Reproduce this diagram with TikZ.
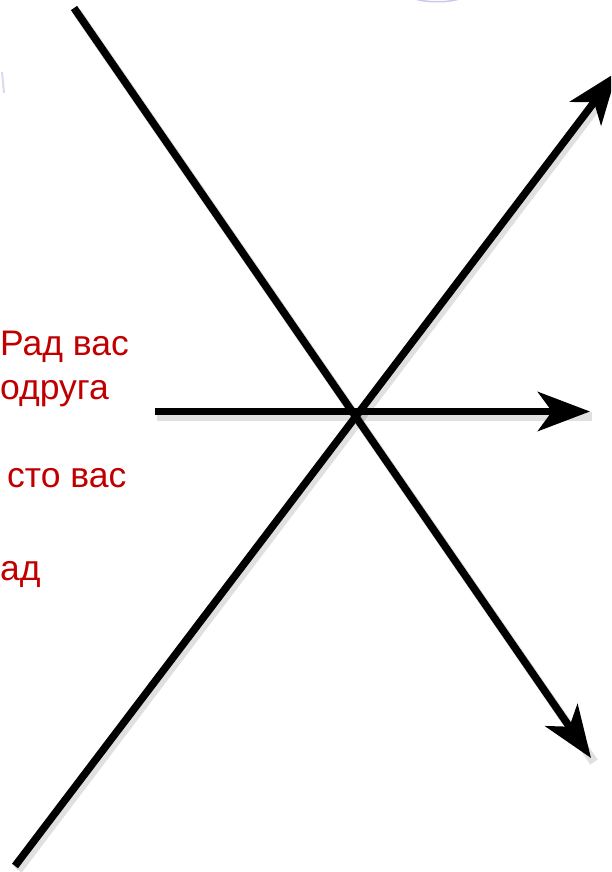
\documentclass[tikz,border=0pt]{standalone}
\usepackage{fontspec}
\setmainfont{Liberation Sans}
\usetikzlibrary{arrows.meta}
\definecolor{txtred}{RGB}{192,0,0}
\definecolor{lav}{RGB}{205,200,235}
\tikzset{
  bigarrow/.style={line width=7.5pt, -{Stealth[length=52pt, width=39pt, inset=14pt]}},
  shade/.style={line width=9pt, black, opacity=0.12},
  redtext/.style={anchor=base west, inner sep=0pt, text=txtred, font=\fontsize{35.5}{44}\selectfont}
}
\begin{document}
\begin{tikzpicture}[x=1pt, y=-1pt]
\useasboundingbox (0,0) rectangle (611,872);
\clip (0,0) rectangle (611,872);
% faint cropped fragments
\draw[lav, line width=1.5pt] (412,-2) .. controls (425,3) and (450,3) .. (462,-2);
\draw[lav, line width=2pt, opacity=0.7] (2,72) -- (4,93);
% coordinates
\coordinate (a1) at (74,8);
\coordinate (a2) at (591,758);
\coordinate (b1) at (15,866);
\coordinate (b2) at (617,72);
\coordinate (c1) at (155,411.5);
\coordinate (c2) at (590,411.5);
% shadows
\draw[shade] ([shift={(3,4)}]a1) -- ([shift={(3,4)}]a2);
\draw[shade] ([shift={(3,4)}]b1) -- ([shift={(3,4)}]b2);
\draw[shade] ([shift={(2,5)}]c1) -- ([shift={(2,5)}]c2);
% lines
\draw[bigarrow] (a1) -- (a2);
\draw[bigarrow] (b1) -- (b2);
\draw[bigarrow] (c1) -- (c2);
% texts
\node[redtext] (t1) at (0,355) {Рад вас};
\node[redtext] (t2) at (0,399) {одруга};
\node[redtext] (t3) at (7,487) {сто вас};
\node[redtext] (t4) at (0,580) {ад};
\end{tikzpicture}
\end{document}
